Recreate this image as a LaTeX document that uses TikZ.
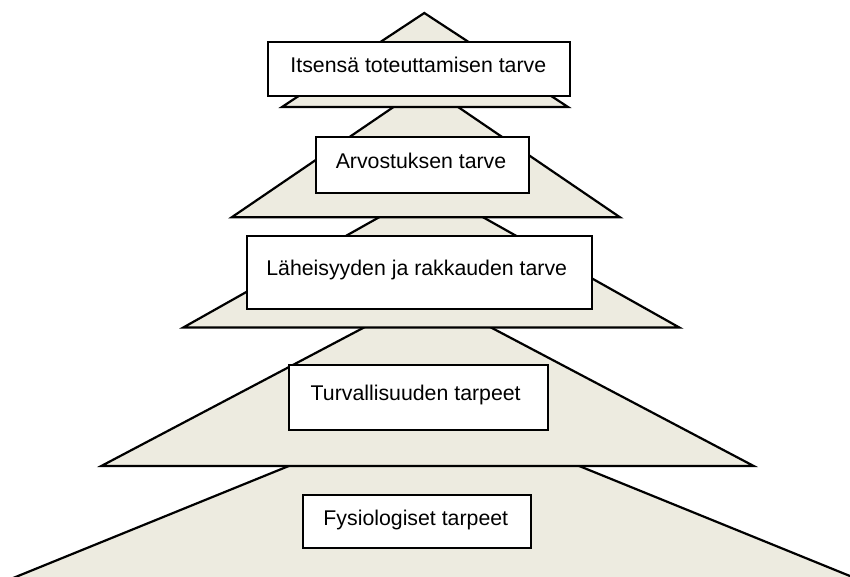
\documentclass[tikz,border=0pt]{standalone}
\usepackage{fontspec}
\setmainfont{Liberation Sans}
\tikzset{
  tier/.style={draw=black, fill=tierfill, line width=2.2pt},
  labelbox/.style={draw=black, fill=white, line width=2pt, rectangle, inner sep=0pt},
  labeltext/.style={anchor=base, inner sep=0pt, font=\fontsize{21.3}{25}\selectfont}
}
\definecolor{tierfill}{HTML}{EDEBE0}
\begin{document}
\begin{tikzpicture}[x=1pt,y=-1pt]
\useasboundingbox (0,0) rectangle (850,577);
\clip (0,0) rectangle (850,577);
% triangles, bottom first
\draw[tier] (434,407) -- (909,600) -- (-41,600) -- cycle;
\draw[tier] (427.5,294) -- (753.7,466) -- (101.3,466) -- cycle;
\draw[tier] (431,188) -- (679.3,327.5) -- (183.3,327.5) -- cycle;
\draw[tier] (425.8,85) -- (620,217.3) -- (231.7,217.3) -- cycle;
\draw[tier] (424.3,13) -- (568,107) -- (282,107) -- cycle;
% boxes
\node[labelbox, minimum width=301.7pt, minimum height=54.3pt] (b1) at (419.2,69) {};
\node[labelbox, minimum width=213pt, minimum height=56.6pt] (b2) at (422.5,165) {};
\node[labelbox, minimum width=345pt, minimum height=73pt] (b3) at (419.2,272.5) {};
\node[labelbox, minimum width=259pt, minimum height=65pt] (b4) at (418.8,397.5) {};
\node[labelbox, minimum width=227.7pt, minimum height=52.7pt] (b5) at (417.2,521.3) {};
% labels
\node[labeltext] (t1) at (418.3,72.7) {Itsensä toteuttamisen tarve};
\node[labeltext] (t2) at (421,168.3) {Arvostuksen tarve};
\node[labeltext] (t3) at (416.7,275) {Läheisyyden ja rakkauden tarve};
\node[labeltext] (t4) at (415.7,400) {Turvallisuuden tarpeet};
\node[labeltext] (t5) at (415.8,525.7) {Fysiologiset tarpeet};
\end{tikzpicture}
\end{document}
